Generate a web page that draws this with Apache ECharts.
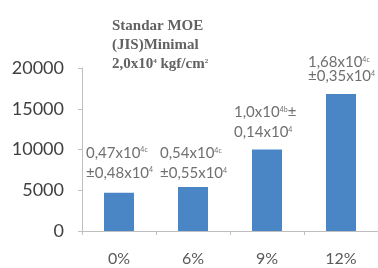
<!DOCTYPE html>
<html><head><meta charset="utf-8">
<script src="https://cdn.jsdelivr.net/npm/echarts@6/dist/echarts.min.js"></script>
<style>html,body{margin:0;padding:0;background:#fff}#c{width:378px;height:268px}</style>
</head><body><div id="c"></div>
<script>
const categories = ['0%', '6%', '9%', '12%'];
const moeValues = [4700, 5400, 10000, 16800];
const labelLine1 = [['0,47x10', '4c', ''], ['0,54x10', '4c', ''], ['1,0x10', '4b', '±'], ['1,68x10', '4c', '']];
const labelLine2 = [['±0,48x10', '4'], ['±0,55x10', '4'], ['0,14x10', '4'], ['±0,35x10', '4']];
const labelGap = [10, 4, 7, 11];
const labelLineHeight = [20, 20, 20, 14];
const yTicks = { min: 0, max: 20000, interval: 5000 };

const chart = echarts.init(document.getElementById('c'), null, { renderer: 'canvas' });
const data = moeValues.map((v, i) => {
  const lh = labelLineHeight[i];
  const l1 = labelLine1[i], l2 = labelLine2[i];
  return {
    value: v,
    label: {
      distance: labelGap[i],
      formatter: '{m|' + l1[0] + '}{s|' + l1[1] + '}' + (l1[2] ? '{m|' + l1[2] + '}' : '') + '\n{m|' + l2[0] + '}{s|' + l2[1] + '}',
      rich: {
        m: { fontSize: 15, fontFamily: 'Lato', color: '#707070', lineHeight: lh },
        s: { fontSize: 7, fontFamily: 'Lato', color: '#707070', lineHeight: lh, verticalAlign: 'top', padding: [lh/2 - 6, 0, 0, 0] }
      }
    }
  };
});
chart.setOption({
  animation: false,
  title: {
    left: 107, top: 12,
    text: '{t|Standar MOE}\n{t|(JIS)Minimal}\n{t|2,0x10}{u|4}{t| kgf/cm}{u|2}',
    textStyle: {
      rich: {
        t: { fontFamily: 'Liberation Serif', fontSize: 15, color: '#626262', lineHeight: 19, fontWeight: 'bold' },
        u: { fontFamily: 'Liberation Serif', fontSize: 7, color: '#626262', lineHeight: 19, verticalAlign: 'top', padding: [3, 0, 0, 0] }
      }
    }
  },
  grid: { left: 82, top: 68, width: 300, height: 163, containLabel: false },
  xAxis: {
    type: 'category', data: categories,
    axisLine: { lineStyle: { color: '#bfbfbf' } },
    axisTick: { show: true, length: 4, lineStyle: { color: '#bfbfbf' } },
    axisLabel: { fontFamily: 'Lato', fontSize: 16, color: '#5a5a5a', margin: 20 }
  },
  yAxis: {
    type: 'value', min: yTicks.min, max: yTicks.max, interval: yTicks.interval,
    axisLine: { show: true, lineStyle: { color: '#bfbfbf' } },
    axisTick: { show: true, length: 4, lineStyle: { color: '#bfbfbf' } },
    splitLine: { show: false },
    axisLabel: { fontFamily: 'Lato', fontSize: 18, color: '#404040', margin: 18, formatter: v => String(v) }
  },
  series: [{
    type: 'bar', data: data, barWidth: 30,
    itemStyle: { color: '#4a86c6' },
    label: { show: true, position: 'top', align: 'left', offset: [-33, 0] }
  }]
});
</script></body></html>
